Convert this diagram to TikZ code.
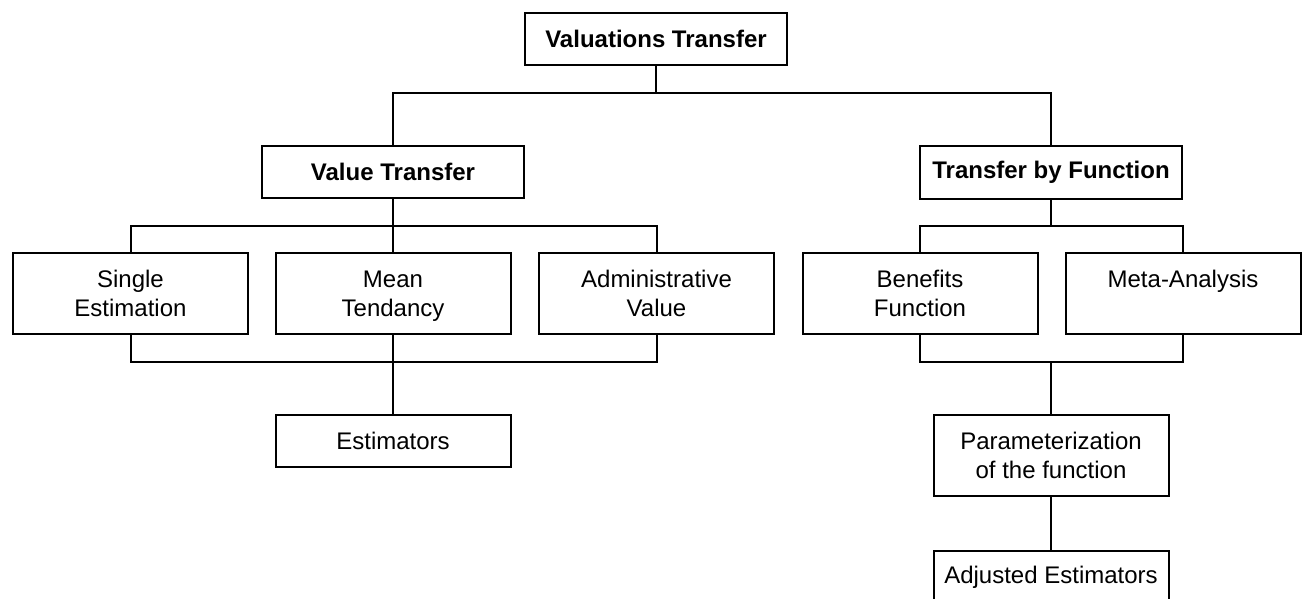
\documentclass[tikz,border=0pt]{standalone}
\usepackage{fontspec}
\setmainfont{Liberation Sans}
\newcommand{\toptext}[2]{\parbox[c][#1][t]{235pt}{\centering\vspace*{13.7pt}\strut #2}}
\begin{document}
\begin{tikzpicture}[x=1pt,y=-1pt,
  every path/.style={line width=2pt},
  headbox/.style={draw, line width=2pt, inner sep=0pt, minimum width=262pt, minimum height=52pt,
    font=\fontsize{24}{29}\selectfont\bfseries},
  subbox/.style={draw, line width=2pt, inner sep=0pt,
    font=\fontsize{24}{29}\selectfont},
  link/.style={line width=2pt}]
\useasboundingbox (0,0) rectangle (1304,599);
% headers
\node[headbox] (top) at (656,39) {Valuations Transfer};
\node[headbox] (val) at (393,172) {Value Transfer};
\node[headbox] (tbf) at (1051,172.5) {Transfer by Function};
% second row
\node[subbox] (se) at (130.5,293.5) {\toptext{81pt}{Single\\Estimation}};
\node[subbox] (mt) at (393,293.5) {\toptext{81pt}{Mean\\Tendancy}};
\node[subbox] (ad) at (656.5,293.5) {\toptext{81pt}{Administrative\\Value}};
\node[subbox] (bf) at (920,293.5) {\toptext{81pt}{Benefits\\Function}};
\node[subbox] (ma) at (1183,293.5) {\toptext{81pt}{Meta-Analysis}};
% lower boxes
\node[subbox] (est) at (393,441) {\toptext{52pt}{Estimators}};
\node[subbox] (par) at (1051,455.5) {\toptext{81pt}{Parameterization\\of the function}};
\node[subbox] (adj) at (1051,578) {\parbox[c][54pt][t]{235pt}{\centering\vspace*{11.7pt}\strut Adjusted Estimators}};
% bus coordinates
\coordinate (b1) at (656,93);
\coordinate (b2) at (393,226);
\coordinate (b3) at (393,362);
\coordinate (b4) at (1051,226);
\coordinate (b5) at (1051,362);
% connectors
\draw[link] (top.south) -- (b1);
\draw[link] (val.north) |- (b1) -| (tbf.north);
\draw[link] (val.south) -- (mt.north);
\draw[link] (se.north) |- (b2) -| (ad.north);
\draw[link] (se.south) |- (b3) -| (ad.south);
\draw[link] (mt.south) -- (est.north);
\draw[link] (tbf.south) -- (b4);
\draw[link] (bf.north) |- (b4) -| (ma.north);
\draw[link] (bf.south) |- (b5) -| (ma.south);
\draw[link] (b5) -- (par.north);
\draw[link] (par.south) -- (adj.north);
\end{tikzpicture}
\end{document}
